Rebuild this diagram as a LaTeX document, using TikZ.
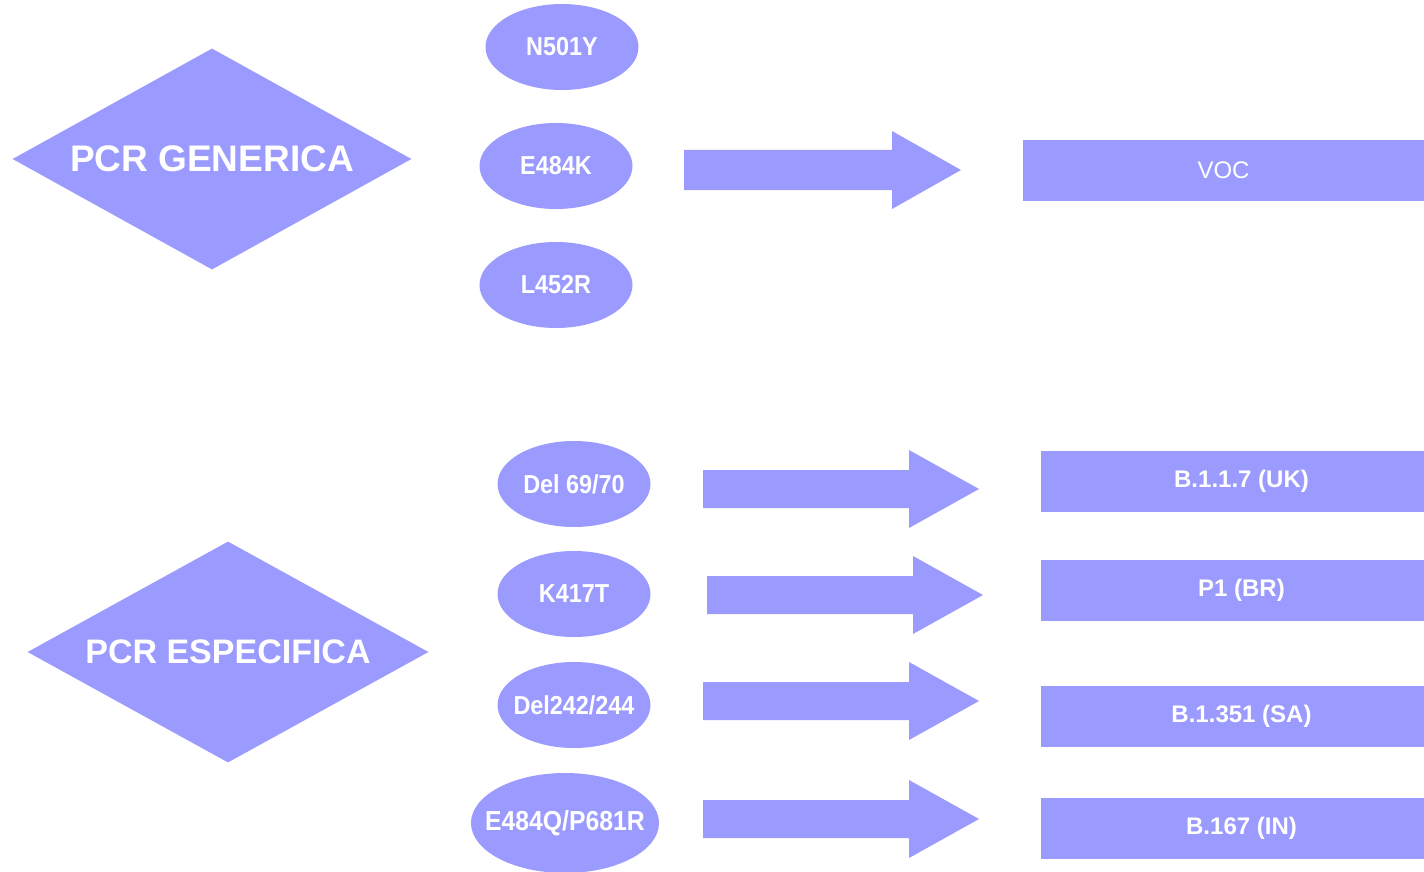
\documentclass[tikz,border=0pt]{standalone}
\usepackage{fontspec}
\setmainfont{Liberation Sans}
\newfontfamily\condf[FakeStretch=0.9]{Liberation Sans}
\usetikzlibrary{shapes.geometric}
\definecolor{pv}{RGB}{155,155,255}
\newcommand\blockarrow[1]{\fill[pv] (#1) ++(0,-19) -- ++(206,0) -- ++(0,-20) -- ++(70,39) -- ++(-70,39) -- ++(0,-20) -- ++(-206,0) -- cycle;}
\begin{document}
\begin{tikzpicture}[x=1pt,y=-1pt,
  dia/.style={diamond,fill=pv,inner sep=0pt,aspect=1.8,text=white,minimum height=221pt},
  ov/.style={ellipse,fill=pv,inner sep=0pt,minimum width=153pt,minimum height=86pt},
  ovt/.style={text=white,font=\condf\fontsize{26}{28}\selectfont\bfseries,inner sep=0pt},
  bar/.style={rectangle,fill=pv,inner sep=0pt,minimum height=61pt,minimum width=401pt,text=white,font=\fontsize{24}{26}\selectfont\bfseries}]
\useasboundingbox (0,0) rectangle (1424,872);
% diamonds
\node[dia,minimum width=399pt,font=\fontsize{37}{40}\selectfont\bfseries] (gen) at (212,159) {PCR GENERICA};
\node[dia,minimum width=401pt,font=\fontsize{34}{38}\selectfont\bfseries] (esp) at (228,652) {PCR ESPECIFICA};
% ellipses
\node[ov,label={[ovt]center:N501Y}] (n501) at (562,47) {};
\node[ov,label={[ovt]center:E484K}] (e484) at (556,166) {};
\node[ov,label={[ovt]center:L452R}] (l452) at (556,285) {};
\node[ov,label={[ovt]center:Del 69/70}] (del69) at (574,484) {};
\node[ov,label={[ovt]center:K417T}] (k417) at (574,594) {};
\node[ov,label={[ovt]center:Del242/244}] (del242) at (574,705) {};
\node[ov,minimum width=188pt,minimum height=100pt,label={[ovt,font=\condf\fontsize{27.5}{30}\selectfont\bfseries]center:E484Q/P681R}] (e484q) at (565,823) {};
% bars
\node[bar,font=\fontsize{24}{26}\selectfont] (voc) at (1223.5,170.5) {VOC};
\node[bar] (uk) at (1241.5,481) {B.1.1.7 (UK)};
\node[bar] (br) at (1241.5,590.5) {P1 (BR)};
\node[bar] (sa) at (1241.5,716.5) {B.1.351 (SA)};
\node[bar] (in) at (1241.5,828) {B.167 (IN)};
% block arrows
\coordinate (a0) at (684,170);
\coordinate (a1) at (703,489);
\coordinate (a2) at (707,595);
\coordinate (a3) at (703,701);
\coordinate (a4) at (703,819);
\fill[pv] (a0) ++(0,-20) -- ++(208,0) -- ++(0,-19) -- ++(69,39) -- ++(-69,39) -- ++(0,-19) -- ++(-208,0) -- cycle;
\blockarrow{a1}
\blockarrow{a2}
\blockarrow{a3}
\blockarrow{a4}
\end{tikzpicture}
\end{document}
